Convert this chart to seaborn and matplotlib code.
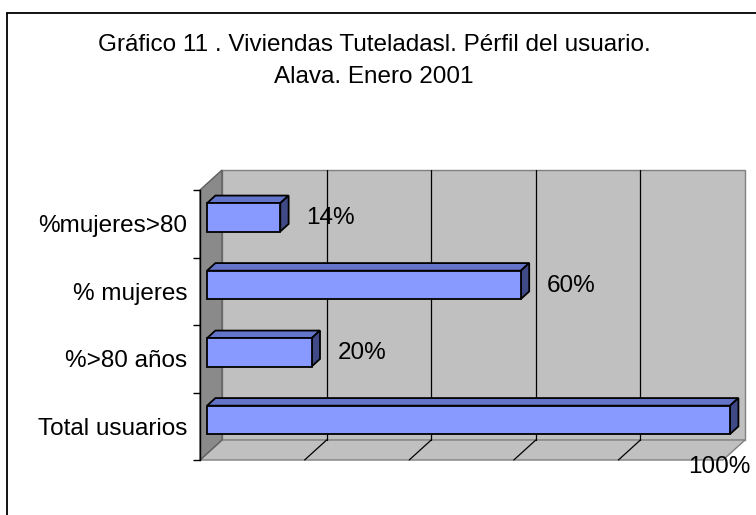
import numpy as np
import matplotlib
matplotlib.use('Agg')
import matplotlib.pyplot as plt
from matplotlib.patches import Polygon
from matplotlib.transforms import ScaledTranslation
import seaborn as sns

# datos del gráfico (de arriba a abajo)
categorias = ['%mujeres>80', '% mujeres', '%>80 años', 'Total usuarios']
valores = [14, 60, 20, 100]
etiquetas = ['14%', '60%', '20%', '100%']
titulo = ['Gráfico 11 . Viviendas Tuteladasl. Pérfil del usuario.', 'Alava. Enero 2001']

sns.set_theme(style='white')
plt.rcParams['font.family'] = ['Liberation Sans', 'DejaVu Sans']
fs = 17.5

W, H = 756, 515
fig = plt.figure(figsize=(W / 100, H / 100), dpi=100)
# plano frontal del gráfico 3D (en píxeles)
x0, x1, ytop, ybot = 200, 723, 190, 460
ax = fig.add_axes([x0 / W, 1 - ybot / H, (x1 - x0) / W, (ybot - ytop) / H])
ax.set_xlim(0, 100)
ax.set_ylim(3.5, -0.5)

# profundidad en píxeles -> unidades de datos
px_x = (x1 - x0) / 100
px_y = (ybot - ytop) / 4
DX, DY = 22 / px_x, -20 / px_y
fa, fb = 0.32, 0.70  # profundidad de las barras (delante / detrás)


def d(x, y, f):
    return (x + DX * f, y + DY * f)


pared = '#C0C0C0'
lateral = '#8A8A8A'
# pared del fondo
ax.add_patch(Polygon([d(0, -0.5, 1), d(100, -0.5, 1), d(100, 3.5, 1), d(0, 3.5, 1)],
                     closed=True, fc=pared, ec='#808080', lw=1, clip_on=False, zorder=0))
# suelo
ax.add_patch(Polygon([d(0, 3.5, 0), d(100, 3.5, 0), d(100, 3.5, 1), d(0, 3.5, 1)],
                     closed=True, fc=pared, ec='#808080', lw=1, clip_on=False, zorder=0))
# pared lateral
ax.add_patch(Polygon([d(0, 3.5, 0), d(0, 3.5, 1), d(0, -0.5, 1), d(0, -0.5, 0)],
                     closed=True, fc=lateral, ec='#606060', lw=1, clip_on=False, zorder=0))

# líneas de división
for g in [20, 40, 60, 80]:
    ax.plot(*zip(d(g, -0.5, 1), d(g, 3.5, 1)), color='black', lw=0.9, clip_on=False, zorder=1)
    ax.plot(*zip(d(g, 3.5, 1), d(g, 3.5, 0)), color='black', lw=0.9, clip_on=False, zorder=1)

# barras (cara frontal) con seaborn
alto = 0.42
sns.barplot(x=valores, y=categorias, orient='h', color='#8899FF', width=alto,
            edgecolor='black', linewidth=1.3, saturation=1, ax=ax, zorder=3)
desp = ScaledTranslation(22 * fa / 100, 20 * fa / 100, fig.dpi_scale_trans)
for p in [pp for pp in ax.patches if pp.get_zorder() == 3]:
    p.set_transform(ax.transData + desp)
    p.set_clip_on(False)

# caras superior y lateral
for i, v in enumerate(valores):
    yt, yb = i - alto / 2, i + alto / 2
    ax.add_patch(Polygon([d(0, yt, fa), d(v, yt, fa), d(v, yt, fb), d(0, yt, fb)],
                         closed=True, fc='#6474C8', ec='black', lw=1.3, clip_on=False, zorder=2))
    ax.add_patch(Polygon([d(v, yt, fa), d(v, yb, fa), d(v, yb, fb), d(v, yt, fb)],
                         closed=True, fc='#3F4A86', ec='black', lw=1.3, clip_on=False, zorder=2))

# etiquetas de datos
for i, (v, t) in enumerate(zip(valores, etiquetas)):
    if v >= 100:
        ax.annotate(t, xy=(v, i), xytext=(-3, -29), textcoords='offset points',
                    ha='center', va='center', fontsize=fs, color='black', zorder=5,
                    annotation_clip=False)
    else:
        ax.annotate(t, xy=(v, i), xytext=(24, 4), textcoords='offset points',
                    ha='left', va='center', fontsize=fs, color='black', zorder=5,
                    annotation_clip=False)

# ejes
for s in ['top', 'right', 'bottom']:
    ax.spines[s].set_visible(False)
ax.spines['left'].set_color('black')
ax.spines['left'].set_linewidth(1)
ax.spines['left'].set_zorder(4)
ax.set_xticks([])
ax.set_yticks(range(len(categorias)))
ax.set_yticklabels(categorias, fontsize=fs, color='black')
ax.set_yticks([-0.5, 0.5, 1.5, 2.5, 3.5], minor=True)
ax.tick_params(axis='y', which='major', length=0, pad=9)
ax.tick_params(axis='y', which='minor', length=5, width=1, color='black', left=True, direction='out')
ax.set_xlabel('')
ax.set_ylabel('')
ax.patch.set_visible(False)

# título en dos líneas
for k, linea in enumerate(titulo):
    fig.text(374 / W, 1 - (45 + 32 * k) / H, linea, ha='center', va='center',
             fontsize=fs, color='black')

# borde del área del gráfico
fig.add_artist(plt.Line2D([7 / W, 7 / W], [0, 1 - 13 / H], color='black', lw=1.3))
fig.add_artist(plt.Line2D([7 / W, 1], [1 - 13 / H, 1 - 13 / H], color='black', lw=1.3))

fig.savefig('out.png', dpi=100)
